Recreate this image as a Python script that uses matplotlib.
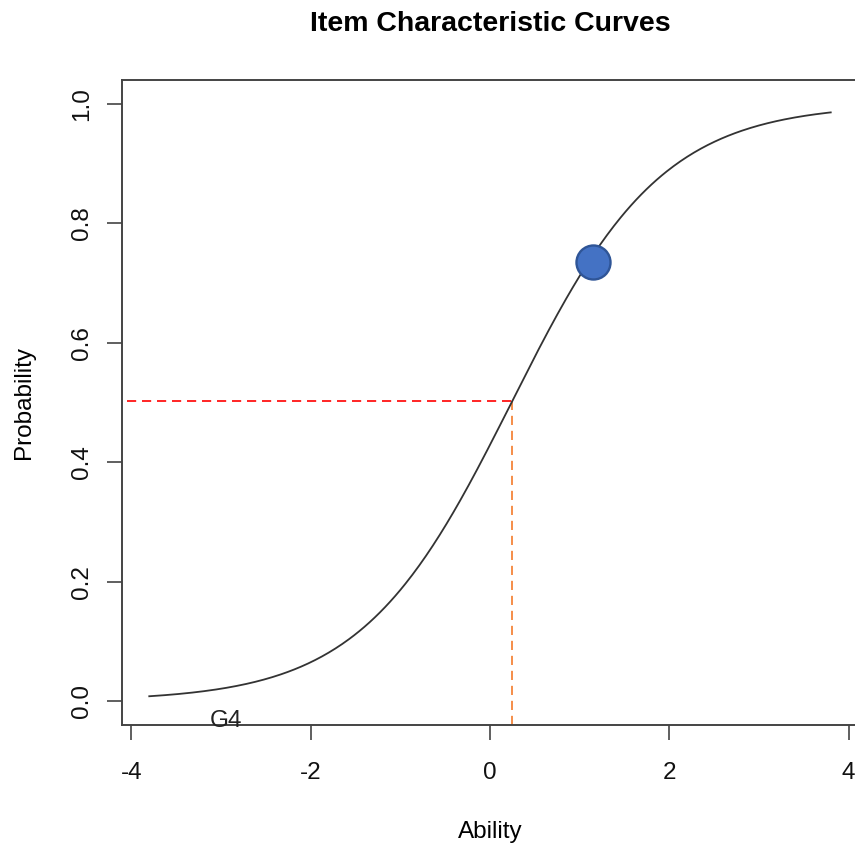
import numpy as np
import matplotlib
matplotlib.use("Agg")
import matplotlib.pyplot as plt

plt.rcParams['font.family'] = ['Liberation Sans', 'DejaVu Sans']

# Item parameters (2PL logistic, scaled slope) and plot content
item_label = "G4"
item_slope = 1.19      # a * D
item_difficulty = 0.24
theta_range = [-3.8, 3.8]
theta_ref = 0.25        # dashed reference ability
point_theta = [1.15]
point_prob = [0.736]
x_ticks = [-4, -2, 0, 2, 4]
y_ticks = [0.0, 0.2, 0.4, 0.6, 0.8, 1.0]


def icc(theta):
    return 1.0 / (1.0 + np.exp(-item_slope * (np.asarray(theta) - item_difficulty)))


fig = plt.figure(figsize=(8.55, 8.43), dpi=100)
ax = fig.add_axes([0.1427, 0.1400, 0.8608, 0.7651])

xlim = (-4.104, 4.104)
ylim = (-0.04, 1.04)

theta = np.linspace(theta_range[0], theta_range[1], 400)
ax.plot(theta, icc(theta), color='#333333', lw=1.3, zorder=3)

p_ref = float(icc(theta_ref))
ax.plot([xlim[0] + 0.06, theta_ref], [p_ref, p_ref], color='#ff0000', lw=1.2,
        ls=(0, (5.5, 3.5)), zorder=2)
ax.plot([theta_ref, theta_ref], [ylim[0], p_ref], color='#f47a2a', lw=1.2,
        ls=(0, (5.5, 3.5)), zorder=2)

ax.plot(point_theta, point_prob, 'o', ms=24.5, mfc='#4472c4', mec='#2f5597',
        mew=1.7, zorder=4)

ax.text(-2.94, -0.034, item_label, ha='center', va='center', fontsize=17.5,
        color='#222222', zorder=5)

ax.set_xlim(*xlim)
ax.set_ylim(*ylim)
ax.set_xticks(x_ticks)
ax.set_xticklabels([f"{t:d}" for t in x_ticks])
ax.set_yticks(y_ticks)
ax.set_yticklabels([f"{t:.1f}" for t in y_ticks], rotation=90, va='center')

for side in ['left', 'top', 'bottom', 'right']:
    ax.spines[side].set_color('#444444')
    ax.spines[side].set_linewidth(1.4)

ax.tick_params(axis='both', direction='out', length=10.5, width=1.2,
               color='#444444', labelsize=17.5, labelcolor='#111111')
ax.tick_params(axis='x', pad=16)
ax.tick_params(axis='y', pad=10.5)

ax.set_xlabel("Ability", fontsize=17.5, labelpad=27)
ax.set_ylabel("Probability", fontsize=17.5, labelpad=25.5)
ax.set_title("Item Characteristic Curves", fontsize=20.5, fontweight='bold',
             pad=35)

fig.savefig("out.png", dpi=100)
